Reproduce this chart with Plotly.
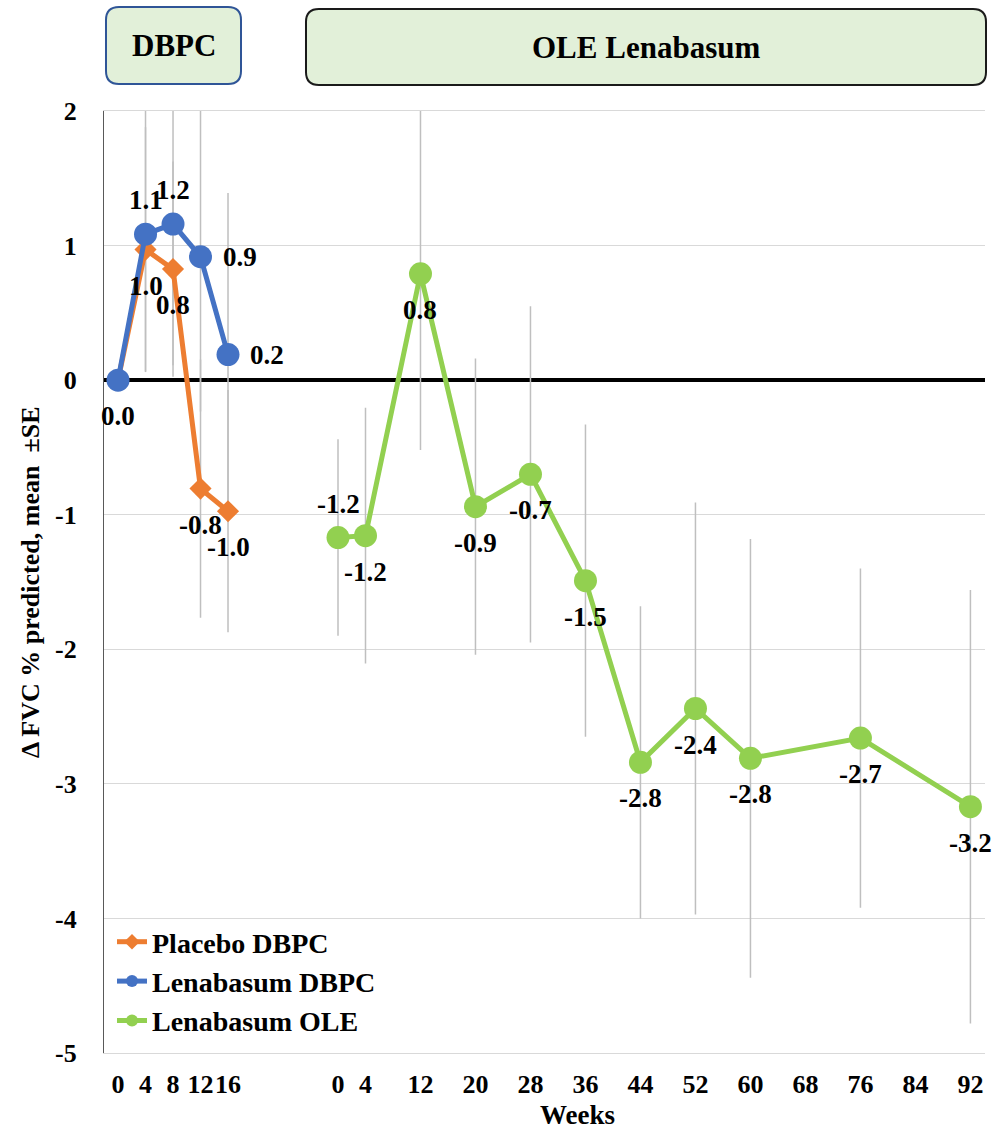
import plotly.graph_objects as go

# ---------------- data ----------------
dbpc_weeks = [0, 4, 8, 12, 16]
placebo_mean = [0.0, 0.97, 0.825, -0.806, -0.974]
placebo_se = [0.0, 0.91, 0.80, 0.96, 0.90]
lena_dbpc_mean = [0.0, 1.085, 1.16, 0.917, 0.19]
lena_dbpc_se = [0.0, 1.02, 1.05, 1.15, 1.20]

ole_weeks = [0, 4, 12, 20, 28, 36, 44, 52, 60, 76, 92]
lena_ole_mean = [-1.17, -1.156, 0.79, -0.94, -0.70, -1.49, -2.84, -2.44, -2.81, -2.66, -3.17]
lena_ole_se = [0.73, 0.95, 1.31, 1.10, 1.25, 1.16, 1.16, 1.53, 1.63, 1.26, 1.61]

# label placement per point: 'b' below, 'a' above, 'r' right
placebo_lab = ["", "b", "b", "b", "b"]
lena_dbpc_lab = ["b", "a", "a", "r", "r"]
lena_ole_lab = ["a", "b", "b", "b", "b", "b", "b", "b", "b", "b", "b"]

# category slots of the x axis (DBPC weeks, 3 empty slots, OLE weeks)
dbpc_slots = ["DBPC 0", "DBPC 4", "DBPC 8", "DBPC 12", "DBPC 16"]
gap_slots = [" ", "  ", "   "]
ole_slot_weeks = [0, 4, 8, 12, 16, 20, 24, 28, 32, 36, 40, 44, 48, 52, 56,
                  60, 64, 68, 72, 76, 80, 84, 88, 92]
ole_slots = ["OLE %d" % w for w in ole_slot_weeks]
categories = dbpc_slots + gap_slots + ole_slots

tick_weeks_ole = [0, 4, 12, 20, 28, 36, 44, 52, 60, 68, 76, 84, 92]
tick_vals = dbpc_slots + ["OLE %d" % w for w in tick_weeks_ole]
tick_text = [str(w) for w in dbpc_weeks] + [str(w) for w in tick_weeks_ole]

y_ticks = [2, 1, 0, -1, -2, -3, -4, -5]
y_tick_text = ["2", "1", "0", "-1", "-2", "-3", "-4", "-5"]

x_dbpc = ["DBPC %d" % w for w in dbpc_weeks]
x_ole = ["OLE %d" % w for w in ole_weeks]

ORANGE = "#ED7D31"
BLUE = "#4472C4"
GREEN = "#92D050"
ERR = "#BFBFBF"
FONT = "Liberation Serif"

fig = go.Figure()

# error bars first (beneath the lines)
for xs, ys, se in [(x_dbpc, placebo_mean, placebo_se),
                   (x_dbpc, lena_dbpc_mean, lena_dbpc_se),
                   (x_ole, lena_ole_mean, lena_ole_se)]:
    fig.add_trace(go.Scatter(
        x=xs, y=ys, mode="markers",
        marker=dict(size=2, color="rgba(0,0,0,0)"),
        error_y=dict(type="data", array=se, visible=True, color=ERR,
                     thickness=1.5, width=0),
        showlegend=False, hoverinfo="skip"))

fig.add_trace(go.Scatter(
    x=x_dbpc, y=placebo_mean, mode="lines+markers", name="Placebo DBPC",
    line=dict(color=ORANGE, width=5),
    marker=dict(symbol="diamond", size=17, color=ORANGE)))
fig.add_trace(go.Scatter(
    x=x_dbpc, y=lena_dbpc_mean, mode="lines+markers", name="Lenabasum DBPC",
    line=dict(color=BLUE, width=5),
    marker=dict(symbol="circle", size=23, color=BLUE)))
fig.add_trace(go.Scatter(
    x=x_ole, y=lena_ole_mean, mode="lines+markers", name="Lenabasum OLE",
    line=dict(color=GREEN, width=5),
    marker=dict(symbol="circle", size=23, color=GREEN)))

# data labels
annotations = []
shift = {"b": (0, -36), "a": (0, 34), "r": (39, 0)}
for xs, ys, labs in [(x_dbpc, placebo_mean, placebo_lab),
                     (x_dbpc, lena_dbpc_mean, lena_dbpc_lab),
                     (x_ole, lena_ole_mean, lena_ole_lab)]:
    for xv, yv, lb in zip(xs, ys, labs):
        if not lb:
            continue
        dx, dy = shift[lb]
        annotations.append(dict(
            x=xv, y=yv, xref="x", yref="y", text="%.1f" % yv,
            showarrow=False, xshift=dx, yshift=dy,
            xanchor="center", yanchor="middle",
            font=dict(family=FONT, size=27, color="black", weight="bold")))

# geometry helpers for boxes (pixel -> paper)
L, R, T, B = 104, 12, 111, 76
W, H = 997, 1129
PW, PH = W - L - R, H - T - B


def px(p):
    return (p - L) / PW


def py(p):
    return (H - B - p) / PH


def rrect(x0, y0, x1, y1, r):
    pts = [("M", x0 + r, y0), ("L", x1 - r, y0), ("Q", x1, y0, x1, y0 + r),
           ("L", x1, y1 - r), ("Q", x1, y1, x1 - r, y1), ("L", x0 + r, y1),
           ("Q", x0, y1, x0, y1 - r), ("L", x0, y0 + r), ("Q", x0, y0, x0 + r, y0)]
    s = ""
    for p in pts:
        cmd = p[0]
        coords = p[1:]
        parts = []
        for i in range(0, len(coords), 2):
            parts.append("%.5f,%.5f" % (px(coords[i]), py(coords[i + 1])))
        s += cmd + " " + " ".join(parts) + " "
    return s + "Z"


shapes = [
    dict(type="path", xref="paper", yref="paper",
         path=rrect(106, 7, 241, 84, 13),
         fillcolor="#E2F0D9", line=dict(color="#2F5597", width=2)),
    dict(type="path", xref="paper", yref="paper",
         path=rrect(306, 9, 986, 85, 13),
         fillcolor="#E2F0D9", line=dict(color="#1A1A1A", width=2)),
]


def txt(xp, yp, s, size, angle=0):
    return dict(x=px(xp), y=py(yp), xref="paper", yref="paper", text=s,
                showarrow=False, xanchor="center", yanchor="middle",
                textangle=angle,
                font=dict(family=FONT, size=size, color="black", weight="bold"))


annotations += [
    txt(174, 46, "DBPC", 31),
    txt(646, 47, "OLE Lenabasum", 31),
    txt(577, 1115, "Weeks", 27),
    txt(30, 583, "\u0394 FVC % predicted, mean\u00a0 \u00b1SE", 26, -90),
]

fig.update_layout(
    width=W, height=H,
    margin=dict(l=L, r=R, t=T, b=B),
    plot_bgcolor="white", paper_bgcolor="white",
    showlegend=True,
    legend=dict(x=px(112), y=py(917), xanchor="left", yanchor="top",
                bgcolor="rgba(0,0,0,0)", itemsizing="constant",
                font=dict(family=FONT, size=28, color="black", weight="bold")),
    shapes=shapes, annotations=annotations,
    xaxis=dict(type="category", categoryorder="array", categoryarray=categories,
               range=[-0.51, 31.53], tickmode="array", tickvals=tick_vals,
               ticktext=tick_text, tickangle=0, showgrid=False, zeroline=False,
               showline=True, linecolor="#D9D9D9", linewidth=1.3, mirror=True,
               ticks="outside", ticklen=8, tickcolor="rgba(0,0,0,0)",
               tickfont=dict(family=FONT, size=26, color="black", weight="bold")),
    yaxis=dict(range=[-5, 2], tickmode="array", tickvals=y_ticks,
               ticktext=y_tick_text, showgrid=True,
               gridcolor="#D9D9D9", gridwidth=1.3,
               zeroline=True, zerolinecolor="black", zerolinewidth=4,
               showline=True, linecolor="#595959", linewidth=1.3,
               ticks="outside", ticklen=21, tickcolor="rgba(0,0,0,0)",
               tickfont=dict(family=FONT, size=26, color="black", weight="bold")),
)

fig.write_html("out.html", config={"displayModeBar": False},
               post_script="document.body.style.margin='0';document.body.style.padding='0';")
